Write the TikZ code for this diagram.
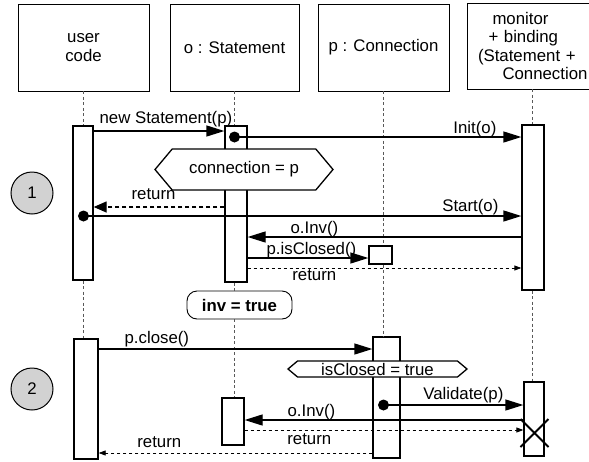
\documentclass[tikz,border=0pt]{standalone}
\usepackage{fontspec}
\setmainfont{Liberation Sans}
\usetikzlibrary{arrows.meta,shapes.symbols}

\begin{document}
\begin{tikzpicture}[x=1pt,y=-1pt,font=\fontsize{16.8}{18.3}\selectfont]
        \useasboundingbox (0,0) rectangle (589,461);
        \clip (0,0) rectangle (589,461);
        \tikzstyle{head}=[draw,fill=white,line width=0.9pt,inner sep=0pt,align=center]
        \tikzstyle{bar}=[draw,fill=white,line width=1.3pt,inner sep=0pt]
        \tikzstyle{life}=[gray!70!black,line width=0.8pt,dash pattern=on 3pt off 2.5pt]
        \tikzstyle{call}=[line width=1.3pt,-{Triangle[length=18pt,width=11pt]}]
        \tikzstyle{retbig}=[line width=1.3pt,dash pattern=on 4pt off 3pt,-{Triangle[length=13pt,width=11pt]}]
        \tikzstyle{ret}=[line width=0.8pt,dash pattern=on 3.5pt off 2.5pt,-{Triangle[length=7pt,width=5pt]}]
        \tikzstyle{dot}=[circle,fill,inner sep=0pt,minimum size=11pt]
        \tikzstyle{phase}=[circle,draw,fill=gray!35,line width=1pt,minimum size=42pt]
        \tikzstyle{cond}=[signal,signal to=west and east,draw,fill=white,line width=1.3pt]
        % objects
        \node[head,minimum width=131pt,minimum height=87pt] (user) at (83.5,47.5) {user\\code};
        \node[head,minimum width=129pt,minimum height=87pt] (stmt) at (234.5,47.5) {o : Statement};
        \node[head,minimum width=131pt,minimum height=87pt] (conn) at (383.5,47.5) {p : Connection};
        \node[head,minimum width=130pt,minimum height=86pt,text width=111pt,align=left] (mon) at (532,46)
            {\hspace*{16pt}monitor\\\hspace*{12pt}+ binding\\\hspace*{1.5pt}(Statement +\\\hspace*{26pt}Connection};
        % activations
        \node[bar,minimum width=20pt,minimum height=154pt] (ub1) at (83,203) {};
        \node[bar,minimum width=24pt,minimum height=120pt] (ub2) at (86,399) {};
        \node[bar,minimum width=22pt,minimum height=156pt] (ob1) at (236,204) {};
        \node[bar,minimum width=22pt,minimum height=47pt] (ob2) at (233,421.5) {};
        \node[bar,minimum width=23pt,minimum height=18pt] (chk) at (380.5,255) {};
        \node[bar,minimum width=27pt,minimum height=121pt] (pb2) at (386.5,397.5) {};
        \node[bar,minimum width=22pt,minimum height=165pt] (mb1) at (533,207.5) {};
        \node[bar,minimum width=20pt,minimum height=74pt] (mb2) at (534,419) {};
        % states
        \node[cond,minimum width=178pt,minimum height=41pt,signal pointer angle=100] (c1) at (244,169.5) {connection = p};
        \node[cond,minimum width=179pt,minimum height=16pt,inner ysep=0pt,signal pointer angle=80] (c2) at (377.5,369) {isClosed = true};
        \node[draw,fill=white,rounded corners=10pt,line width=0.9pt,minimum width=105pt,minimum height=28pt,font=\fontsize{16.8}{18.3}\selectfont\bfseries] (inv) at (239.5,305) {inv = true};
        \node[phase] (ph1) at (32,193) {1};
        \node[phase] (ph2) at (32,389) {2};
        % lifelines
        \draw[life] (user.south) -- (user.south |- ub1.north) (user.south |- ub1.south) -- (user.south |- ub2.north);
        \draw[life] (stmt.south) -- (stmt.south |- ob1.north) (stmt.south |- ob1.south) -- (stmt.south |- inv.north)
            (stmt.south |- inv.south) -- (stmt.south |- ob2.north);
        \draw[life] (conn.south) -- (conn.south |- chk.north) (conn.south |- chk.south) -- (conn.south |- pb2.north);
        \draw[life] (mon.south) -- (mon.south |- mb1.north) (mon.south |- mb1.south) -- (mon.south |- mb2.north);
        % messages
        \coordinate (t1) at (0,131);
        \coordinate (t2) at (0,137);
        \coordinate (t3) at (0,207);
        \coordinate (t4) at (0,216);
        \coordinate (t5) at (0,237);
        \coordinate (t6) at (0,258);
        \coordinate (t7) at (0,268);
        \coordinate (t8) at (0,349);
        \coordinate (t9) at (0,405);
        \coordinate (t10) at (0,420);
        \coordinate (t11) at (0,430);
        \coordinate (t12) at (0,453);
        \node[dot] (d1) at (stmt.south |- t2) {};
        \node[dot] (d2) at (user.south |- t4) {};
        \node[dot] (d3) at (conn.south |- t9) {};
        \draw[call] (ub1.east |- t1) -- (ob1.west |- t1) node[at start,anchor=base west,xshift=2pt,yshift=8pt] {new Statement(p)};
        \draw[call] (d1.center) -- (mb1.west |- t2) node[at end,anchor=base east,xshift=-21pt,yshift=4pt] {Init(o)};
        \draw[retbig] (ob1.west |- t3) -- (ub1.east |- t3) node[at end,anchor=base west,xshift=34pt,yshift=8pt] {return};
        \draw[call] (d2.center) -- (mb1.west |- t4) node[at end,anchor=base east,xshift=-19pt,yshift=5pt] {Start(o)};
        \draw[call] (mb1.west |- t5) -- (ob1.east |- t5) node[at end,anchor=base west,xshift=39pt,yshift=4pt] {o.Inv()};
        \draw[call] (ob1.east |- t6) -- (chk.west |- t6) node[at start,anchor=base west,xshift=15pt,yshift=4pt] {p.isClosed()};
        \draw[ret] (ob1.east |- t7) -- (mb1.west |- t7) node[at start,anchor=base west,xshift=41pt,yshift=-12pt] {return};
        \draw[call] (ub2.east |- t8) -- (pb2.west |- t8) node[at start,anchor=base west,xshift=22pt,yshift=6pt] {p.close()};
        \draw[call] (d3.center) -- (mb2.west |- t9) node[at end,anchor=base east,xshift=-16pt,yshift=6pt] {Validate(p)};
        \draw[call] (mb2.west |- t10) -- (ob2.east |- t10) node[at end,anchor=base west,xshift=39pt,yshift=4pt] {o.Inv()};
        \draw[ret] (ob2.east |- t11) -- (mb2.west |- t11) node[at start,anchor=base west,xshift=39pt,yshift=-14pt] {return};
        \draw[ret] (pb2.west |- t12) -- (ub2.east |- t12) node[at end,anchor=base west,xshift=35pt,yshift=6pt] {return};
        % end of monitor
        \coordinate (kill) at (534.5,433);
        \draw[line width=2pt] (kill) +(-14,-14) -- +(14,14) (kill) +(14,-14) -- +(-14,14);
\end{tikzpicture}
\end{document}
